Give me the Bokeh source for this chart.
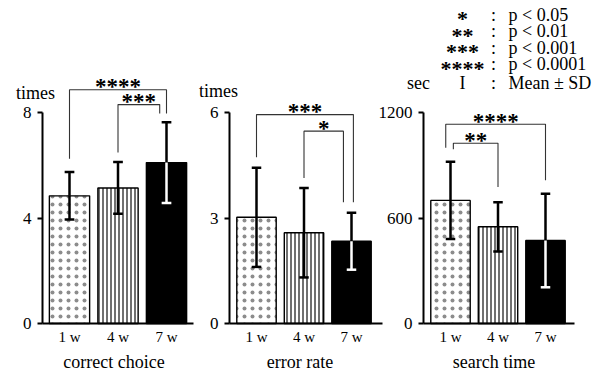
from bokeh.plotting import figure
from bokeh.models import Label, Range1d, FixedTicker, LinearAxis
from bokeh.embed import file_html
from bokeh.resources import INLINE
from bokeh.core.properties import value

# ---------------- data ----------------
groups = ["1 w", "4 w", "7 w"]
panel_titles = ["correct choice", "error rate", "search time"]
panel_units = ["times", "times", "sec"]
panel_ticks = [[0, 4, 8], [0, 3, 6], [0, 600, 1200]]
means = [[4.84, 5.14, 6.10], [3.02, 2.58, 2.34], [700, 550, 472]]
sds = [[0.90, 0.98, 1.53], [1.41, 1.27, 0.81], [220, 140, 266]]

# significance brackets
sig_panel = [0, 0, 1, 1, 2, 2]
sig_left = [0.0, 1.0, 0.0, 1.0, -0.1, 0.06]
sig_right = [2.0, 1.86, 2.04, 1.83, 2.0, 1.0]
sig_level = [8.86, 8.30, 5.94, 5.47, 1133, 1025]
sig_left_end = [6.25, 6.48, 4.73, 4.14, 1000, 991]
sig_right_end = [7.96, 7.96, 3.45, 3.45, 814, 776]
sig_stars = ["****", "***", "***", "*", "****", "**"]

legend_stars = ["*", "**", "***", "****"]
legend_texts = ["p < 0.05", "p < 0.01", "p < 0.001", "p < 0.0001"]
legend_sd_symbol = "I"
legend_sd_text = "Mean \u00b1 SD"

# ---------------- layout / style ----------------
FONT = value("Liberation Serif")
FONTN = "Liberation Serif"
W, H = 600, 372
first_px = [69, 256, 450]      # pixel column of the first group in each panel
step_px = [48.5, 47.5, 47.5]   # pixels between groups
axis_px = [42, 229, 423]       # pixel column of each y axis
right_px = [193, 382, 574]     # end of each baseline
BASE_PX, TOPTICK_PX = 323, 112
unit_pos = [(35, 92), (218, 90), (418, 82)]
bar_fill = ["white", "white", "black"]
bar_hatch = ["dot", "vertical_line", " "]
bar_hatch_scale = [8, 4, 1]
bar_hatch_weight = [0.8, 1.3, 1.0]
bar_hatch_color = ["#000000", "#222222", "#222222"]
bar_hatch_alpha = [0.45, 1.0, 1.0]
err_low_color = ["black", "black", "white"]
STAR_SIZE = "23px"

p = figure(width=W, height=H, x_range=Range1d(0, 1), y_range=Range1d(0, 1),
           x_axis_location=None, y_axis_location=None,
           output_backend="svg", toolbar_location=None,
           min_border=0, min_border_left=0, min_border_right=0,
           min_border_top=0, min_border_bottom=0)
p.outline_line_color = None
p.grid.visible = False

for i in range(3):
    xr, yr = f"x{i}", f"y{i}"
    ymax = panel_ticks[i][-1]
    k = step_px[i]
    c0 = first_px[i]
    s = (BASE_PX - TOPTICK_PX) / ymax
    p.extra_x_ranges[xr] = Range1d(-c0 / k, (W - c0) / k)
    p.extra_y_ranges[yr] = Range1d((BASE_PX - H) / s, BASE_PX / s)
    x_axis_at = (axis_px[i] - c0) / k
    x_right = (right_px[i] - c0) / k

    xs = list(range(len(groups)))
    m = means[i]
    sd = sds[i]
    for j in xs:
        p.vbar(x=[j], top=[m[j]], bottom=0, width=0.83,
               x_range_name=xr, y_range_name=yr,
               fill_color=bar_fill[j], line_color="black", line_width=1.4,
               hatch_pattern=bar_hatch[j], hatch_scale=bar_hatch_scale[j],
               hatch_color=bar_hatch_color[j], hatch_weight=bar_hatch_weight[j],
               hatch_alpha=bar_hatch_alpha[j])
    hi = [a + b for a, b in zip(m, sd)]
    lo = [a - b for a, b in zip(m, sd)]
    cw = 0.1
    kw = dict(x_range_name=xr, y_range_name=yr, line_width=2.5)
    p.segment(x0=xs, y0=m, x1=xs, y1=hi, line_color="black", **kw)
    p.segment(x0=[x - cw for x in xs], y0=hi, x1=[x + cw for x in xs], y1=hi,
              line_color="black", **kw)
    p.segment(x0=xs, y0=lo, x1=xs, y1=m, line_color=err_low_color, **kw)
    p.segment(x0=[x - cw for x in xs], y0=lo, x1=[x + cw for x in xs], y1=lo,
              line_color=err_low_color, **kw)

    # significance brackets
    for q in range(len(sig_panel)):
        if sig_panel[q] != i:
            continue
        l, r, lv = sig_left[q], sig_right[q], sig_level[q]
        p.line(x=[l, l, r, r], y=[sig_left_end[q], lv, lv, sig_right_end[q]],
               x_range_name=xr, y_range_name=yr,
               line_color="#333333", line_width=1.1)
        p.text(x=[(l + r) / 2], y=[lv], text=[sig_stars[q]],
               x_range_name=xr, y_range_name=yr, text_font=FONT,
               text_font_size=STAR_SIZE, text_font_style="bold", text_align="center",
               text_baseline="middle", y_offset=-3, text_color="black")

    # axes
    xa = LinearAxis(x_range_name=xr, y_range_name=yr, fixed_location=0,
                    bounds=(x_axis_at, x_right), ticker=FixedTicker(ticks=xs),
                    major_label_overrides={x: g for x, g in zip(xs, groups)},
                    major_tick_out=0, major_tick_in=0, minor_tick_out=0, minor_tick_in=0,
                    axis_line_width=2, major_label_standoff=5,
                    major_label_text_font=FONTN, major_label_text_font_size="15px",
                    major_label_text_color="black")
    p.add_layout(xa, "below")
    ya = LinearAxis(x_range_name=xr, y_range_name=yr, fixed_location=x_axis_at,
                    bounds=(0, ymax), ticker=FixedTicker(ticks=panel_ticks[i]),
                    major_tick_out=5, major_tick_in=0, major_tick_line_width=2,
                    minor_tick_out=0, minor_tick_in=0, axis_line_width=2,
                    major_label_standoff=6, major_label_text_font=FONTN,
                    major_label_text_font_size="17px", major_label_text_color="black")
    p.add_layout(ya, "left")

    # axis title and unit
    p.add_layout(Label(x=1, y=361, x_range_name=xr, x_units="data", y_units="canvas",
                       x_offset=-4, text=panel_titles[i], text_font=FONTN,
                       text_font_size="18px", text_align="center",
                       text_baseline="middle", text_color="black"))
    ux, uy = unit_pos[i]
    p.add_layout(Label(x=ux, y=uy, x_units="canvas", y_units="canvas",
                       text=panel_units[i], text_font=FONTN, text_font_size="18px",
                       text_align="center", text_baseline="middle", text_color="black"))

# significance key
row_center = [14, 30.5, 47, 63.5]
KEY_STAR_X, KEY_COLON_X, KEY_TEXT_X = 462, 493, 508
for q in range(4):
    p.add_layout(Label(x=KEY_STAR_X, y=row_center[q] + 4, x_units="canvas", y_units="canvas",
                       text=legend_stars[q], text_font=FONTN, text_font_size="22px",
                       text_font_style="bold",
                       text_align="center", text_baseline="middle", text_color="black"))
    p.add_layout(Label(x=KEY_COLON_X, y=row_center[q], x_units="canvas", y_units="canvas",
                       text=":", text_font=FONTN, text_font_size="18px",
                       text_align="center", text_baseline="middle", text_color="black"))
    p.add_layout(Label(x=KEY_TEXT_X, y=row_center[q], x_units="canvas", y_units="canvas",
                       text=legend_texts[q], text_font=FONTN, text_font_size="18px",
                       text_align="left", text_baseline="middle", text_color="black"))
p.add_layout(Label(x=KEY_STAR_X, y=82, x_units="canvas", y_units="canvas",
                   text=legend_sd_symbol, text_font=FONTN, text_font_size="18px",
                   text_align="center", text_baseline="middle", text_color="black"))
p.add_layout(Label(x=KEY_COLON_X, y=82, x_units="canvas", y_units="canvas",
                   text=":", text_font=FONTN, text_font_size="18px",
                   text_align="center", text_baseline="middle", text_color="black"))
p.add_layout(Label(x=KEY_TEXT_X, y=82, x_units="canvas", y_units="canvas",
                   text=legend_sd_text, text_font=FONTN, text_font_size="18px",
                   text_align="left", text_baseline="middle", text_color="black"))

open("out.html", "w").write(file_html(p, INLINE))
